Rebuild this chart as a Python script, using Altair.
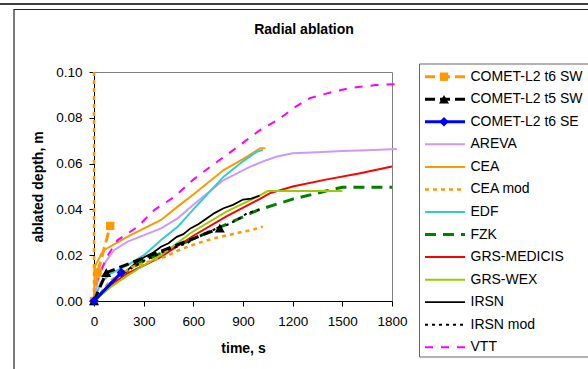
import altair as alt
import pandas as pd

FONT = "Liberation Sans"

# ---------------- data ----------------
names = ["COMET-L2 t6 SW", "COMET-L2 t5 SW", "COMET-L2 t6 SE", "AREVA", "CEA",
         "CEA mod", "EDF", "FZK", "GRS-MEDICIS", "GRS-WEX", "IRSN", "IRSN mod", "VTT"]

t_t6sw = [0, 22, 98]
d_t6sw = [0.0, 0.0125, 0.0328]

t_t5sw = [0, 74, 760]
d_t5sw = [0.0, 0.0124, 0.0318]

t_t6se = [0, 165]
d_t6se = [0.0, 0.0124]

t_areva = [0, 20, 40, 78, 123, 203, 405, 505, 600, 783, 944, 1045, 1100, 1200, 1350, 1500, 1650, 1830]
d_areva = [0.0, 0.008, 0.0135, 0.018, 0.0223, 0.0259, 0.0317, 0.0361, 0.042, 0.0528, 0.0587, 0.0616,
           0.063, 0.0645, 0.065, 0.0655, 0.0658, 0.0664]

t_cea = [0, 5, 44, 62, 203, 405, 505, 600, 783, 900, 1004, 1035]
d_cea = [0.0, 0.015, 0.0205, 0.0223, 0.0281, 0.0354, 0.0412, 0.0465, 0.0572, 0.062, 0.0667, 0.0667]

t_ceamod = [0, 0, 100, 235, 440, 521, 598, 661, 733, 811, 884, 954, 1020]
d_ceamod = [0.10, 0.0, 0.009, 0.015, 0.0196, 0.0225, 0.0245, 0.026, 0.0275, 0.0288, 0.0300, 0.031, 0.0325]

t_edf = [0, 40, 103, 203, 304, 405, 505, 600, 783, 900, 984, 1020]
d_edf = [0.0, 0.008, 0.0121, 0.0157, 0.0201, 0.0266, 0.0324, 0.040, 0.0543, 0.061, 0.0652, 0.066]

t_fzk = [0, 150, 300, 582, 800, 990, 1200, 1400, 1500, 1800]
d_fzk = [0.0, 0.011, 0.0175, 0.0266, 0.0335, 0.0397, 0.0445, 0.048, 0.0497, 0.0497]

t_medicis = [0, 100, 200, 300, 405, 600, 800, 1000, 1060, 1200, 1400, 1600, 1800]
d_medicis = [0.0, 0.007, 0.012, 0.0155, 0.0193, 0.0285, 0.037, 0.0445, 0.047, 0.050, 0.053, 0.0557, 0.0587]

t_wex = [0, 100, 200, 300, 405, 582, 800, 1000, 1050, 1500]
d_wex = [0.0, 0.006, 0.011, 0.0155, 0.020, 0.0296, 0.039, 0.046, 0.048, 0.048]

t_irsn = [0, 50, 100, 150, 203, 250, 300, 350, 405, 450, 500, 540, 582, 630, 680, 730, 783, 840,
          900, 950, 1000]
d_irsn = [0.0, 0.004, 0.008, 0.0112, 0.0135, 0.0165, 0.019, 0.0208, 0.0237, 0.0252, 0.028, 0.0292,
          0.0317, 0.0335, 0.036, 0.0385, 0.0405, 0.042, 0.0443, 0.0447, 0.046]

t_irsnmod = [0, 150, 300, 450, 561, 600, 750, 803, 864, 924, 1000]
d_irsnmod = [0.0, 0.011, 0.0175, 0.0225, 0.0252, 0.027, 0.032, 0.0332, 0.0354, 0.0383, 0.040]

t_vtt = [0, 15, 75, 143, 263, 364, 485, 600, 700, 843, 1000, 1120, 1200, 1300, 1450, 1550, 1700, 1830]
d_vtt = [0.0, 0.008, 0.019, 0.0266, 0.0324, 0.0397, 0.0455, 0.053, 0.0585, 0.066, 0.0745, 0.0795,
         0.084, 0.0885, 0.0915, 0.093, 0.0943, 0.0947]

x_ticks = [0, 300, 600, 900, 1200, 1500, 1800]
y_ticks = [0.0, 0.02, 0.04, 0.06, 0.08, 0.10]

series_data = {
    "COMET-L2 t6 SW": (t_t6sw, d_t6sw),
    "COMET-L2 t5 SW": (t_t5sw, d_t5sw),
    "COMET-L2 t6 SE": (t_t6se, d_t6se),
    "AREVA": (t_areva, d_areva),
    "CEA": (t_cea, d_cea),
    "CEA mod": (t_ceamod, d_ceamod),
    "EDF": (t_edf, d_edf),
    "FZK": (t_fzk, d_fzk),
    "GRS-MEDICIS": (t_medicis, d_medicis),
    "GRS-WEX": (t_wex, d_wex),
    "IRSN": (t_irsn, d_irsn),
    "IRSN mod": (t_irsnmod, d_irsnmod),
    "VTT": (t_vtt, d_vtt),
}

# ---------------- styles ----------------
styles = {
    "COMET-L2 t6 SW": dict(color="#FF9900", width=3, dash=[10, 5], shape="square", size=70),
    "COMET-L2 t5 SW": dict(color="#000000", width=3, dash=[10, 5], shape="triangle-up", size=100),
    "COMET-L2 t6 SE": dict(color="#0000FF", width=3, dash=None, shape="diamond", size=90),
    "AREVA": dict(color="#CC99FF", width=2, dash=None),
    "CEA": dict(color="#FF9900", width=2, dash=None),
    "CEA mod": dict(color="#FF9900", width=2.5, dash=[4, 4]),
    "EDF": dict(color="#33CCCC", width=2, dash=None),
    "FZK": dict(color="#008000", width=3, dash=[11, 7]),
    "GRS-MEDICIS": dict(color="#FF0000", width=2, dash=None),
    "GRS-WEX": dict(color="#99CC00", width=2, dash=None),
    "IRSN": dict(color="#000000", width=1.8, dash=None),
    "IRSN mod": dict(color="#000000", width=2, dash=[3, 4]),
    "VTT": dict(color="#FF00FF", width=2, dash=[8, 8]),
}

# plot area in page pixels: x 94..392, y 72..301
W, H = 298, 229
PL, PT = 94, 72

xaxis = alt.Axis(values=x_ticks, format="d", title="time, s", grid=False, tickSize=5,
                 tickColor="black", domainColor="black", labelFont=FONT, labelFontSize=13.5,
                 labelColor="black", labelPadding=8, labelFlush=False, zindex=0,
                 titleFont=FONT, titleFontSize=14, titleFontWeight="bold", titleColor="black",
                 titleY=47, titleBaseline="middle")
yaxis = alt.Axis(values=y_ticks, format=".2f", title="ablated depth, m", grid=False, tickSize=5,
                 tickColor="black", domainColor="black", labelFont=FONT, labelFontSize=13.5,
                 labelColor="black", labelPadding=7, labelFlush=False, zindex=0,
                 titleFont=FONT, titleFontSize=14, titleFontWeight="bold", titleColor="black",
                 titleX=-56, titleY=H / 2, titleAngle=-90, titleAlign="center",
                 titleBaseline="middle")

X = alt.X("t:Q", scale=alt.Scale(domain=[0, 1800], nice=False, zero=False), axis=xaxis)
Y = alt.Y("d:Q", scale=alt.Scale(domain=[0, 0.1], nice=False, zero=False), axis=yaxis)


def line_layer(name):
    t, d = series_data[name]
    df = pd.DataFrame({"t": t, "d": d, "i": list(range(len(t)))})
    st = styles[name]
    kw = dict(color=st["color"], strokeWidth=st["width"], clip=False)
    if st["dash"]:
        kw["strokeDash"] = st["dash"]
    layers = [alt.Chart(df).mark_line(**kw).encode(x=X, y=Y, order="i:Q")]
    if "shape" in st:
        layers.append(alt.Chart(df).mark_point(shape=st["shape"], filled=True, opacity=1,
                                               color=st["color"], size=st["size"]).encode(x=X, y=Y))
    return layers


draw_order = ["AREVA", "CEA", "EDF", "FZK", "GRS-MEDICIS", "GRS-WEX", "IRSN",
              "IRSN mod", "VTT", "CEA mod", "COMET-L2 t6 SW", "COMET-L2 t5 SW", "COMET-L2 t6 SE"]
layers = []
for n in draw_order:
    layers += line_layer(n)

one = pd.DataFrame({"a": [0]})

# frames
layers.append(alt.Chart(one).mark_rule(color="black", strokeWidth=1.5).encode(
    x=alt.value(-PL), x2=alt.value(600 - PL), y=alt.value(4 - PT)))
layers.append(alt.Chart(one).mark_rect(fillOpacity=0, stroke="#222222", strokeWidth=1.2).encode(
    x=alt.value(14 - PL), x2=alt.value(620 - PL), y=alt.value(9.5 - PT), y2=alt.value(400 - PT)))

# title
layers.append(alt.Chart(pd.DataFrame({"txt": ["Radial ablation"]})).mark_text(
    font=FONT, fontSize=14, fontWeight="bold", color="black", align="center",
    baseline="middle").encode(x=alt.value(304 - PL), y=alt.value(30 - PT), text="txt:N"))

# legend box
layers.append(alt.Chart(one).mark_rect(fillOpacity=0, stroke="#666666", strokeWidth=1).encode(
    x=alt.value(419.5 - PL), x2=alt.value(640 - PL), y=alt.value(64 - PT), y2=alt.value(357 - PT)))

for k, n in enumerate(names):
    yy = 76.7 + k * 22.55 - PT
    st = styles[n]
    dfn = pd.DataFrame({"name": [n]})
    kw = dict(color=st["color"], strokeWidth=st["width"])
    if st["dash"]:
        kw["strokeDash"] = st["dash"]
    layers.append(alt.Chart(dfn).mark_rule(**kw).encode(
        x=alt.value(425 - PL), x2=alt.value(465 - PL), y=alt.value(yy)))
    if "shape" in st:
        layers.append(alt.Chart(dfn).mark_point(shape=st["shape"], filled=True, opacity=1,
                                                color=st["color"], size=st["size"]).encode(
            x=alt.value(444 - PL), y=alt.value(yy)))
    layers.append(alt.Chart(dfn).mark_text(font=FONT, fontSize=14, color="black", align="left",
                                           baseline="middle").encode(
        x=alt.value(470.5 - PL), y=alt.value(yy), text="name:N"))

chart = alt.layer(*layers).properties(
    width=W, height=H,
    padding={"left": PL, "top": PT, "right": 588 - PL - W, "bottom": 369 - PT - H},
    autosize=alt.AutoSizeParams(type="none"),
    background="white",
).configure_view(stroke="#808080", strokeWidth=1)

chart.save("out.html", embed_options={"renderer": "svg", "actions": False})
